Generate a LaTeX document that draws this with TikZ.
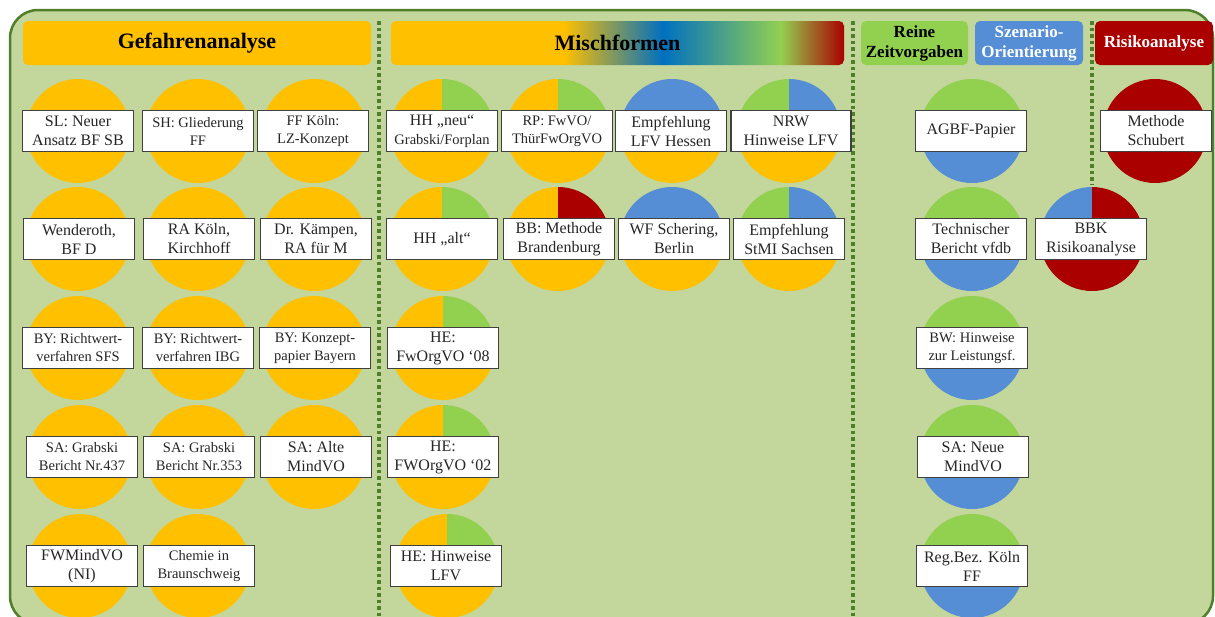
\documentclass[tikz,border=0pt]{standalone}
\usepackage{fontspec}
\setmainfont{Liberation Serif}
\definecolor{gelb}{HTML}{FFC000}
\definecolor{gruen}{HTML}{92D050}
\definecolor{blau}{HTML}{558ED5}
\definecolor{blaudunkel}{HTML}{0070C0}
\definecolor{rot}{HTML}{AA0000}
\definecolor{hgruen}{HTML}{C3D69B}
\definecolor{rahmengruen}{HTML}{4F7F2A}
\pgfdeclarehorizontalshading{misch}{100bp}{color(0bp)=(gelb); color(44bp)=(gelb); color(55bp)=(blaudunkel); color(68bp)=(gruen); color(75bp)=(rot); color(100bp)=(rot)}
\newcommand{\gross}{\fontsize{16}{19}\selectfont}
\newcommand{\klein}{\fontsize{14.5}{18}\selectfont}
\newcommand{\kreis}[5]{%
  \fill[#5] (#1,-#2) -- ++(52pt,0) arc[start angle=0,end angle=-180,radius=52pt] -- cycle;
  \fill[#3] (#1,-#2) -- ++(-52pt,0) arc[start angle=180,end angle=90,radius=52pt] -- cycle;
  \fill[#4] (#1,-#2) -- ++(0,52pt) arc[start angle=90,end angle=0,radius=52pt] -- cycle;}

\begin{document}
\begin{tikzpicture}[x=1pt,y=1pt,
  kasten/.style={draw=black!75,line width=1.4pt,fill=white,minimum width=111pt,minimum height=41pt,inner sep=1pt,align=center,text=black!85,font=\gross},
  kopf/.style={rounded corners=5pt,minimum height=44pt,inner sep=0pt,align=center,font=\bfseries\fontsize{22}{26}\selectfont},
  kopfklein/.style={kopf,font=\bfseries\fontsize{17}{20}\selectfont},
  trenner/.style={draw=rahmengruen,line width=3.5pt,dash pattern=on 3.5pt off 3pt}]
\useasboundingbox (0,0) rectangle (1215,-616);
\draw[line width=2.5pt,draw=rahmengruen,fill=hgruen,rounded corners=28pt] (10,-10) rectangle (1213,-624);

\node[kopf,fill=gelb,minimum width=348pt] (gefahr) at (197,-43) {Gefahrenanalyse};
\node[kopf,shade,shading=misch,minimum width=453pt] (misch) at (617.5,-43) {Mischformen};
\node[kopfklein,fill=gruen,minimum width=107pt] (zeit) at (914.5,-43) {Reine\\Zeitvorgaben};
\node[kopfklein,fill=blau,text=white,minimum width=108pt] (szen) at (1029,-43) {Szenario-\\Orientierung};
\node[kopfklein,fill=rot,text=white,minimum width=118pt] (risiko) at (1154,-43) {Risikoanalyse};

\draw[trenner] (379,-21) -- (379,-616);
\draw[trenner] (853,-21) -- (853,-616);
\draw[trenner] (1092,-21) -- (1092,-185);

\kreis{78}{131}{gelb}{gelb}{gelb}
\kreis{198}{131}{gelb}{gelb}{gelb}
\kreis{314}{131}{gelb}{gelb}{gelb}
\kreis{78}{239}{gelb}{gelb}{gelb}
\kreis{198}{239}{gelb}{gelb}{gelb}
\kreis{314}{239}{gelb}{gelb}{gelb}
\kreis{78}{348}{gelb}{gelb}{gelb}
\kreis{198}{348}{gelb}{gelb}{gelb}
\kreis{314}{348}{gelb}{gelb}{gelb}
\kreis{80}{457}{gelb}{gelb}{gelb}
\kreis{198}{457}{gelb}{gelb}{gelb}
\kreis{314}{457}{gelb}{gelb}{gelb}
\kreis{80}{566}{gelb}{gelb}{gelb}
\kreis{198}{566}{gelb}{gelb}{gelb}

\kreis{442}{131}{gelb}{gruen}{gelb}
\kreis{558}{131}{gelb}{gruen}{gelb}
\kreis{672}{131}{blau}{blau}{gelb}
\kreis{789}{131}{gruen}{blau}{gelb}
\kreis{442}{239}{gelb}{gruen}{gelb}
\kreis{558}{239}{gelb}{rot}{gelb}
\kreis{672}{239}{blau}{blau}{gelb}
\kreis{789}{239}{gruen}{blau}{gelb}
\kreis{443}{348}{gelb}{gruen}{gelb}
\kreis{443}{457}{gelb}{gruen}{gelb}
\kreis{447}{566}{gelb}{gruen}{gelb}

\kreis{972}{131}{gruen}{gruen}{blau}
\kreis{972}{239}{gruen}{gruen}{blau}
\kreis{972}{348}{gruen}{gruen}{blau}
\kreis{972}{457}{gruen}{gruen}{blau}
\kreis{972}{566}{gruen}{gruen}{blau}
\kreis{1155}{131}{rot}{rot}{rot}
\kreis{1092}{239}{blau}{rot}{rot}

\node[kasten] (sl) at (78,-131) {SL: Neuer\\Ansatz BF SB};
\node[kasten,font=\klein] (sh) at (198,-131) {SH: Gliederung\\FF};
\node[kasten,font=\klein] (ffk) at (313,-131) {FF Köln:\\LZ-Konzept};
\node[kasten] (wend) at (79,-239) {Wenderoth,\\BF D};
\node[kasten] (rak) at (199,-239) {RA Köln,\\Kirchhoff};
\node[kasten] (kae) at (316,-239) {Dr. Kämpen,\\RA für M};
\node[kasten,font=\klein] (bysfs) at (78,-348) {BY: Richtwert-\\verfahren SFS};
\node[kasten,font=\klein] (byibg) at (198,-348) {BY: Richtwert-\\verfahren IBG};
\node[kasten,font=\klein] (bykon) at (315,-348) {BY: Konzept-\\papier Bayern};
\node[kasten,font=\klein] (sa437) at (82,-457) {SA: Grabski\\Bericht Nr.437};
\node[kasten,font=\klein] (sa353) at (199,-457) {SA: Grabski\\Bericht Nr.353};
\node[kasten] (saalt) at (316,-457) {SA: Alte\\MindVO};
\node[kasten] (fwni) at (82,-566) {FWMindVO\\(NI)};
\node[kasten,font=\klein] (chem) at (199,-566) {Chemie in\\Braunschweig};

\node[kasten] (hhneu) at (442,-131) {HH „neu“\\\klein Grabski/Forplan};
\node[kasten,font=\klein] (rp) at (557,-131) {RP: FwVO/\\ThürFwOrgVO};
\node[kasten] (lfvh) at (671,-131) {Empfehlung\\LFV Hessen};
\node[kasten,minimum width=120pt] (nrw) at (791,-131) {NRW\\Hinweise LFV};
\node[kasten] (hhalt) at (442,-239) {HH „alt“};
\node[kasten] (bb) at (559,-239) {BB: Methode\\Brandenburg};
\node[kasten] (wf) at (674,-239) {WF Schering,\\Berlin};
\node[kasten] (stmi) at (789,-239) {Empfehlung\\StMI Sachsen};
\node[kasten] (he08) at (443,-348) {HE:\\FwOrgVO ‘08};
\node[kasten] (he02) at (443,-457) {HE:\\FWOrgVO ‘02};
\node[kasten] (helfv) at (446,-566) {HE: Hinweise\\LFV};

\node[kasten] (agbf) at (971,-131) {AGBF-Papier};
\node[kasten] (vfdb) at (971,-239) {Technischer\\Bericht vfdb};
\node[kasten,font=\klein] (bw) at (972,-348) {BW: Hinweise\\zur Leistungsf.};
\node[kasten] (saneu) at (973,-457) {SA: Neue\\MindVO};
\node[kasten] (regbez) at (972,-566) {Reg.Bez. Köln\\FF};
\node[kasten] (schub) at (1156,-131) {Methode\\Schubert};
\node[kasten] (bbk) at (1091,-239) {BBK\\Risikoanalyse};
\end{tikzpicture}
\end{document}
